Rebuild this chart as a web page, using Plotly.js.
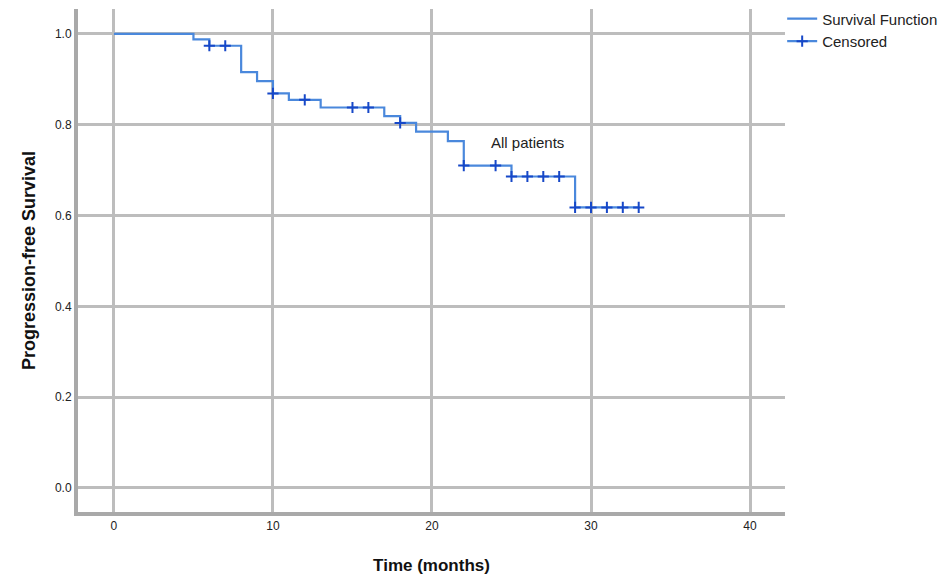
<!DOCTYPE html>
<html>
<head>
<meta charset="utf-8">
<script src="https://cdn.plot.ly/plotly-3.0.1.min.js"></script>
<style>html,body{margin:0;padding:0;background:#fff;}#chart{width:948px;height:578px;}</style>
</head>
<body>
<div id="chart"></div>
<script>
// Kaplan-Meier step points (time in months, survival probability)
var stepTimes  = [0, 5, 6, 8, 9, 10, 11, 13, 17, 18, 19, 21, 22, 25, 29, 33];
var stepValues = [1.0, 0.988, 0.974, 0.916, 0.896, 0.869, 0.855, 0.838, 0.819, 0.804, 0.785, 0.764, 0.710, 0.686, 0.618, 0.618];
// Censored observations
var censTimes  = [6, 7, 10, 12, 15, 16, 18, 22, 24, 25, 26, 27, 28, 29, 30, 31, 32, 33];
var censValues = [0.974, 0.974, 0.869, 0.855, 0.838, 0.838, 0.804, 0.710, 0.710, 0.686, 0.686, 0.686, 0.686, 0.618, 0.618, 0.618, 0.618, 0.618];
var xTicks = [0, 10, 20, 30, 40];
var yTicks = [0.0, 0.2, 0.4, 0.6, 0.8, 1.0];
var yTickText = ["0.0", "0.2", "0.4", "0.6", "0.8", "1.0"];

// isolate censor points by nulls so legend shows line + marker but no connecting line
var cx = [], cy = [];
for (var i = 0; i < censTimes.length; i++) {
  cx.push(censTimes[i]); cy.push(censValues[i]);
  cx.push(null); cy.push(null);
}

var traces = [
  {
    x: stepTimes, y: stepValues, type: 'scatter', mode: 'lines',
    line: {shape: 'hv', color: '#4a88dc', width: 2.2},
    name: 'Survival Function'
  },
  {
    x: cx, y: cy, type: 'scatter', mode: 'lines+markers', connectgaps: false,
    line: {color: '#4a88dc', width: 2.2},
    marker: {symbol: 'cross-thin', size: 8, line: {color: '#1748c8', width: 2}, color: '#1748c8'},
    name: 'Censored'
  }
];

var gridCol = '#bdbdbd';
var layout = {
  width: 948, height: 578,
  margin: {l: 78, r: 163, t: 9, b: 66, autoexpand: false},
  paper_bgcolor: '#ffffff', plot_bgcolor: '#ffffff',
  font: {family: 'Liberation Sans, Arial, sans-serif', color: '#222'},
  showlegend: true,
  legend: {x: 0.996, xanchor: 'left', y: 1.013, yanchor: 'top', font: {size: 15, color: '#222'},
           bgcolor: 'rgba(0,0,0,0)', tracegroupgap: 0, itemwidth: 30},
  xaxis: {
    range: [-2.26, 42.2], tickvals: xTicks, ticktext: xTicks.map(String),
    showgrid: true, gridcolor: gridCol, gridwidth: 3, zeroline: false,
    showline: true, linecolor: '#a9a9a9', linewidth: 4,
    ticks: '', ticklen: 0, tickfont: {size: 12, color: '#222'},
    title: {text: '<b>Time (months)</b>', font: {size: 17, color: '#111'}, standoff: 28}
  },
  yaxis: {
    range: [-0.053, 1.055], tickvals: yTicks, ticktext: yTickText,
    showgrid: true, gridcolor: gridCol, gridwidth: 3, zeroline: false,
    showline: true, linecolor: '#a9a9a9', linewidth: 4,
    ticks: '', tickfont: {size: 12, color: '#222'},
    title: {text: '<b>Progression-free Survival</b>', font: {size: 18, color: '#111'}, standoff: 16}
  },
  annotations: [
    {x: 26, y: 0.76, xref: 'x', yref: 'y', text: 'All patients', showarrow: false,
     font: {size: 15, color: '#222'}}
  ]
};

Plotly.newPlot('chart', traces, layout, {displayModeBar: false, staticPlot: true});
</script>
</body>
</html>
